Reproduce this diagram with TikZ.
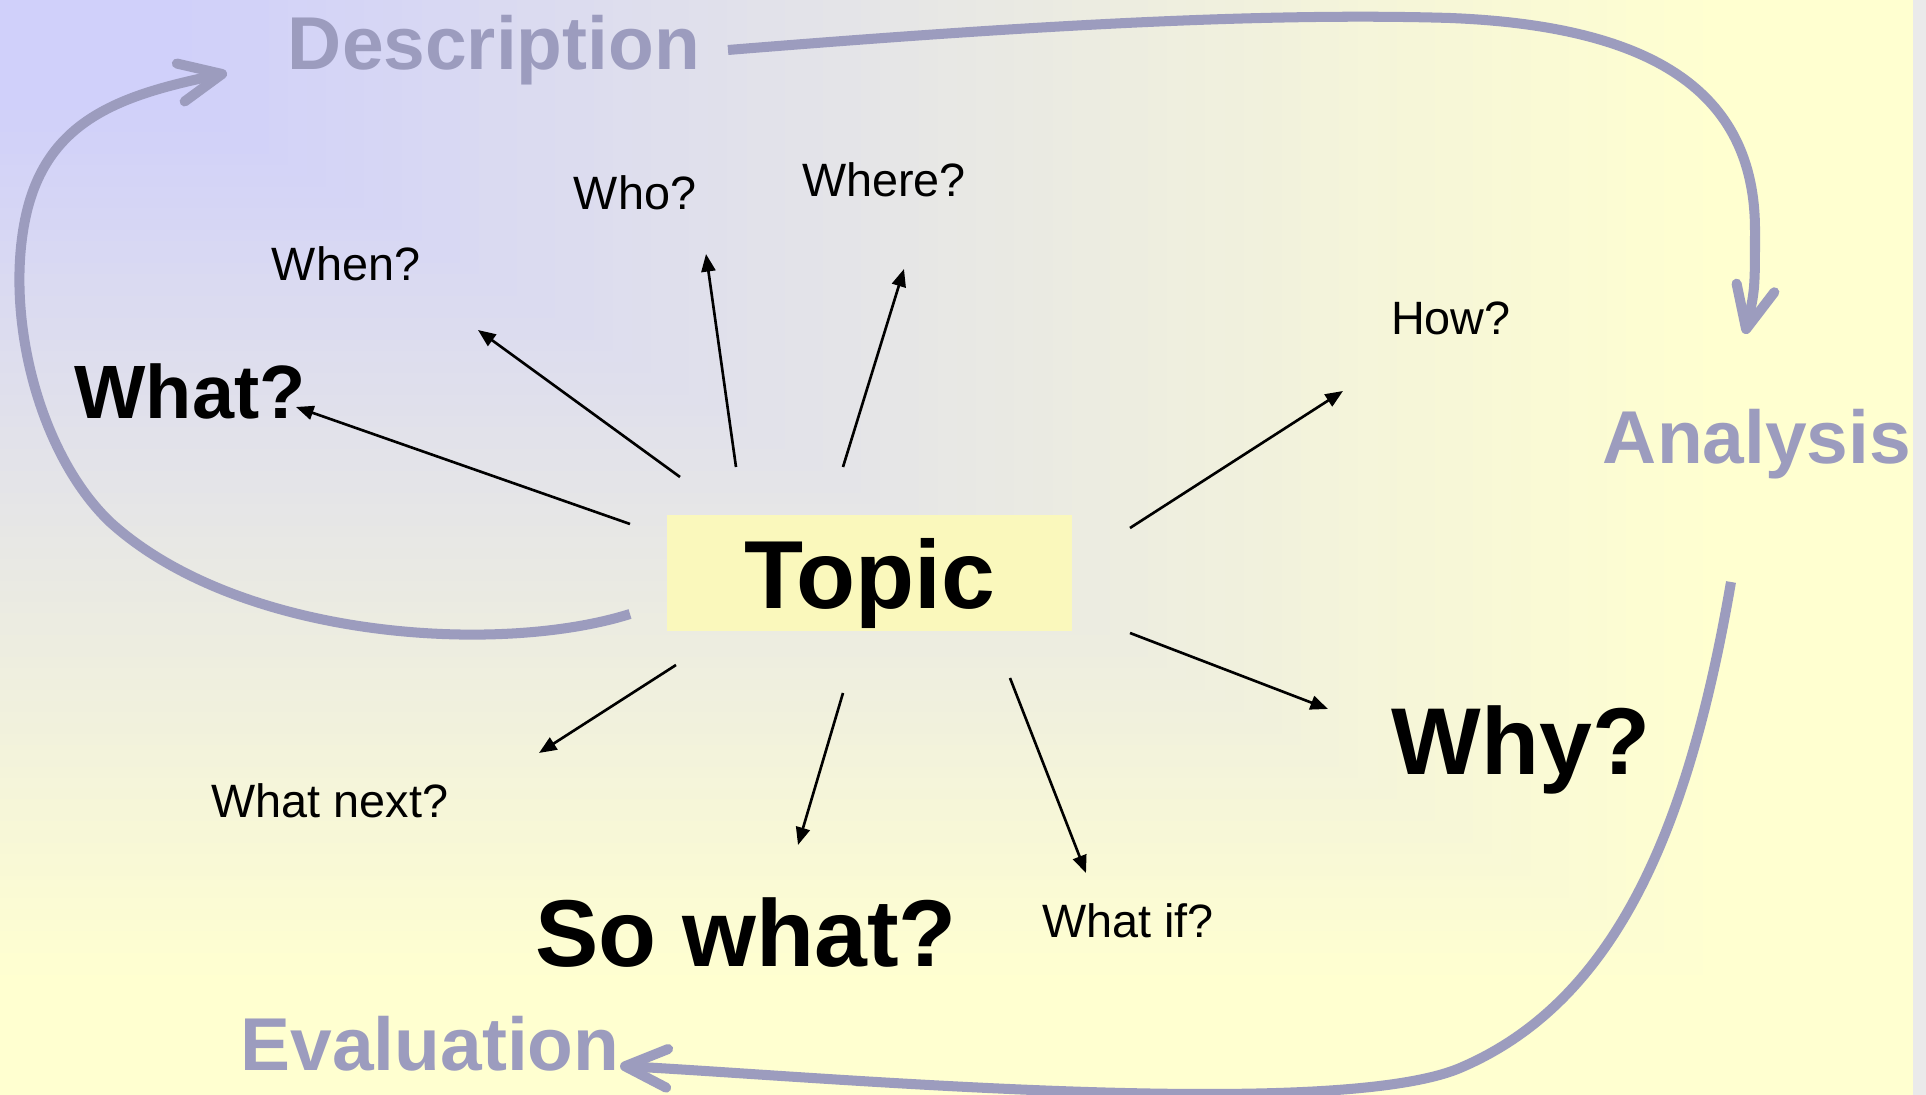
\documentclass[tikz,border=0pt]{standalone}
\usepackage{fontspec}
\setmainfont{Liberation Sans}
\usetikzlibrary{arrows.meta}

\definecolor{bglav}{RGB}{208,208,250}
\definecolor{bgyellow}{RGB}{255,255,208}
\definecolor{phasecol}{RGB}{156,156,190}
\definecolor{topicfill}{RGB}{250,248,188}
\definecolor{stripmid}{RGB}{216,216,216}
\definecolor{stripend}{RGB}{234,234,234}

\begin{document}
\begin{tikzpicture}
    [x=0.01cm,y=-0.01cm,every node/.style={inner sep=0pt},
     phase/.style={text=phasecol, font=\fontsize{21.3pt}{26pt}\selectfont\bfseries, anchor=base},
     ask/.style={font=\fontsize{13.3pt}{16pt}\selectfont, anchor=base},
     bigask/.style={font=\fontsize{27pt}{32pt}\selectfont\bfseries, anchor=base},
     topicbox/.style={fill=topicfill, minimum width=4.05cm, minimum height=1.16cm, text depth=0pt,
                      font=\fontsize{27.5pt}{33pt}\selectfont\bfseries},
     spoke/.style={line width=0.75pt, -{Triangle[length=5pt,width=4pt]}},
     phasearrow/.style={draw=phasecol, line width=2.85pt, -{Straight Barb[length=12pt,width=11pt,round]}}]
  \useasboundingbox (0,0) rectangle (1926,1095);

  % background
  \fill[bgyellow] (0,0) rectangle (1913,1095);
  \foreach \i in {0,...,80} {
    \pgfmathsetmacro\sz{0.9-0.01*\i}
    \pgfmathsetmacro\mix{max(0,(\sz-0.1)/0.8*100)}
    \fill[bgyellow!\mix!bglav] (0,0) rectangle (\sz*1913,\sz*1095);
  }
  \shade[top color=stripend, middle color=stripmid, bottom color=stripend] (1913,0) rectangle (1926,1095);

  \node[topicbox] (topic) at (869.5,573) {Topic};

  \node[phase] (desc) at (494,70) {Description};
  \node[phase] (analysis) at (1757,464) {Analysis};
  \node[phase] (eval) at (430,1071) {Evaluation};

  \node[font=\fontsize{21.5pt}{26pt}\selectfont\bfseries, anchor=base] (what) at (190,419) {What?};
  \node[ask] (when) at (346,281) {When?};
  \node[ask] (who) at (635,210) {Who?};
  \node[ask] (where) at (884,197) {Where?};
  \node[ask] (how) at (1451,335) {How?};
  \node[bigask] (why) at (1521,775) {Why?};
  \node[ask] (next) at (330,818) {What next?};
  \node[bigask] (sowhat) at (746,967) {So what?};
  \node[ask] (whatif) at (1128,938) {What if?};

  % spokes out of the topic
  \coordinate (t1) at (630,524);  \coordinate (h1) at (296,407);
  \coordinate (t2) at (680,477);  \coordinate (h2) at (478,330);
  \coordinate (t3) at (736,467);  \coordinate (h3) at (706,254);
  \coordinate (t4) at (843,467);  \coordinate (h4) at (904,269);
  \coordinate (t5) at (1130,528); \coordinate (h5) at (1343,391);
  \coordinate (t6) at (1130,633); \coordinate (h6) at (1328,709);
  \coordinate (t7) at (676,665);  \coordinate (h7) at (539,753);
  \coordinate (t8) at (843,693);  \coordinate (h8) at (798,845);
  \coordinate (t9) at (1010,678); \coordinate (h9) at (1086,873);

  \foreach \from/\to in {t1/h1, t2/h2, t3/h3, t4/h4, t5/h5, t6/h6, t7/h7, t8/h8, t9/h9}
    \draw[spoke] (\from) -- (\to);

  % the cycle description -> analysis -> evaluation
  \coordinate (a1) at (630,614);  \coordinate (a2) at (227,73);
  \coordinate (a3) at (728,50);   \coordinate (a4) at (1745,334);
  \coordinate (a5) at (1731,582); \coordinate (a6) at (620,1066);

  \draw[phasearrow] (a1) .. controls (500,655) and (240,640) .. (110,522)
    .. controls (40,455) and (5,320) .. (25,220)
    .. controls (45,120) and (120,95) .. (a2);
  \draw[phasearrow] (a3) .. controls (1000,28) and (1250,12) .. (1450,18)
    .. controls (1650,26) and (1755,90) .. (1755,230)
    .. controls (1755,290) .. (a4);
  \draw[phasearrow] (a5) .. controls (1690,820) and (1620,1000) .. (1460,1068)
    .. controls (1330,1123) and (800,1075) .. (a6);
\end{tikzpicture}
\end{document}
